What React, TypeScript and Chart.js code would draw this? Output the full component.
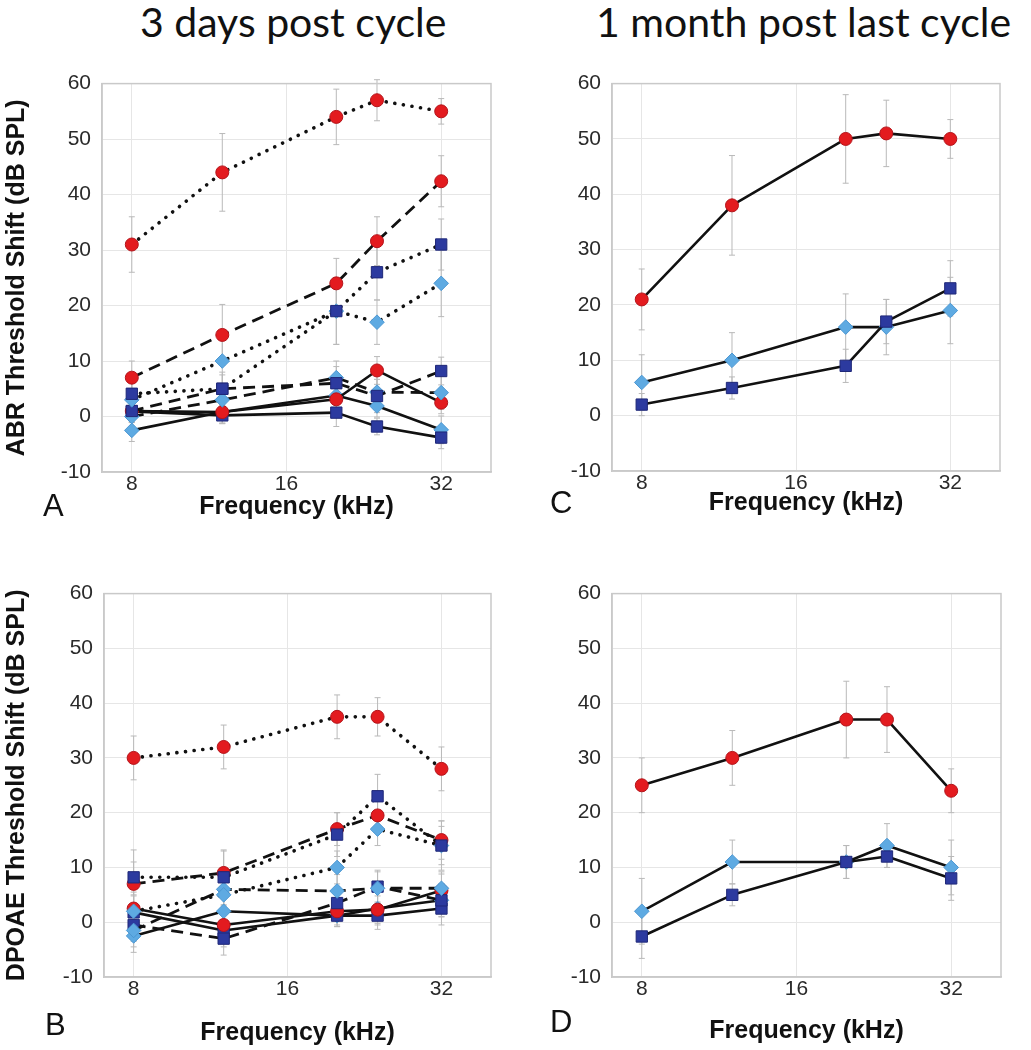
import React, { useEffect, useRef } from "react";
import { Chart, registerables } from "chart.js";

Chart.register(...registerables);

// ---------- shared axis data ----------
const FREQ_KHZ = [8, 12, 20, 24, 32];
const X_TICK_VALUES = [8, 16, 32];
const X_MIN = 7;
const X_MAX = 40;
const Y_MIN = -10;
const Y_MAX = 60;
const Y_STEP = 10;

const TITLE_LEFT = "3 days post cycle";
const TITLE_RIGHT = "1 month post last cycle";
const Y_TITLE_ABR = "ABR Threshold Shift (dB SPL)";
const Y_TITLE_DPOAE = "DPOAE Threshold Shift (dB SPL)";
const X_TITLE = "Frequency (kHz)";

// ---------- Panel A: ABR, 3 days post cycle ----------
const A_RED_SOLID = [1, 0.8, 3.1, 8.3, 2.5];
const A_RED_SOLID_ERR = [2, 2, 2.5, 2.5, 2];
const A_RED_DASHED = [7, 14.7, 24, 31.6, 42.4];
const A_RED_DASHED_ERR = [3, 5.5, 4.5, 4.4, 4.6];
const A_RED_DOTTED = [31, 44, 54, 57, 55];
const A_RED_DOTTED_ERR = [5, 7, 5, 3.7, 2.3];
const A_NAVY_SOLID = [0.9, 0.2, 0.7, -1.8, -3.8];
const A_NAVY_SOLID_ERR = [2, 1.5, 2.5, 1.5, 2];
const A_NAVY_DASHED = [1, 5, 6, 3.7, 8.2];
const A_NAVY_DASHED_ERR = [2, 2.5, 3, 3, 2.5];
const A_NAVY_DOTTED = [4.1, 5, 19, 26, 31];
const A_NAVY_DOTTED_ERR = [3, 3, 6, 5, 4.6];
const A_SKY_SOLID = [-2.5, 0.8, 3.8, 1.9, -2.4];
const A_SKY_SOLID_ERR = [2, 2, 3, 2, 2.5];
const A_SKY_DASHED = [0, 3, 7, 4.4, 4.3];
const A_SKY_DASHED_ERR = [3, 2.5, 3, 3, 3];
const A_SKY_DOTTED = [3, 10, 19, 17, 24];
const A_SKY_DOTTED_ERR = [3, 4.5, 6, 4, 6];

// ---------- Panel B: DPOAE, 3 days post cycle ----------
const B_RED_SOLID = [2.5, -0.5, 2, 2.3, 5.8];
const B_RED_SOLID_ERR = [3, 3, 2.5, 2.5, 3];
const B_RED_DASHED = [7, 9, 17, 19.5, 15];
const B_RED_DASHED_ERR = [4, 4, 3, 3, 3.5];
const B_RED_DOTTED = [30, 32, 37.5, 37.5, 28];
const B_RED_DOTTED_ERR = [4, 4, 4, 3.5, 4];
const B_NAVY_SOLID = [1.8, -1.5, 1.2, 1.2, 2.5];
const B_NAVY_SOLID_ERR = [3, 3, 2, 2.5, 3];
const B_NAVY_DASHED = [-0.5, -3, 3.5, 6.5, 4];
const B_NAVY_DASHED_ERR = [3, 3, 3, 3, 3];
const B_NAVY_DOTTED = [8.2, 8.2, 16, 23, 14];
const B_NAVY_DOTTED_ERR = [5, 5, 4, 4, 4.5];
const B_SKY_SOLID = [-2.5, 2, 1.2, 2.5, 4];
const B_SKY_SOLID_ERR = [3, 3, 2, 3, 3];
const B_SKY_DASHED = [-1.5, 6, 5.7, 6.2, 6.2];
const B_SKY_DASHED_ERR = [3, 3, 3, 3, 3];
const B_SKY_DOTTED = [2, 5, 10, 17, 14];
const B_SKY_DOTTED_ERR = [3, 3, 3, 3, 3.5];

// ---------- Panel C: ABR, 1 month post last cycle ----------
const C_RED = [21, 38, 50, 51, 50];
const C_RED_ERR = [5.5, 9, 8, 6, 3.5];
const C_NAVY = [2, 5, 9, 17, 23];
const C_NAVY_ERR = [2, 2, 3, 4, 5];
const C_SKY = [6, 10, 16, 16, 19];
const C_SKY_ERR = [5, 5, 6, 5, 6];

// ---------- Panel D: DPOAE, 1 month post last cycle ----------
const D_RED = [25, 30, 37, 37, 24];
const D_RED_ERR = [5, 5, 7, 6, 4];
const D_NAVY = [-2.6, 5, 11, 12, 8];
const D_NAVY_ERR = [4, 2, 3, 2, 4];
const D_SKY = [2, 11, 11, 14, 10];
const D_SKY_ERR = [6, 4, 3, 4, 5];

// ---------- styles ----------
const FONT_SANS = "'Liberation Sans', Arial, Helvetica, sans-serif";
const GRID_COLOR = "#e6e6e6";
const FRAME_COLOR = "#c9c9c9";
const ERR_COLOR = "#b9b9b9";
const TICK_COLOR = "#2a2a2a";

const MARKERS: Record<string, any> = {
  red: { pointStyle: "circle", radius: 6.5, bg: "#e31b1f", border: "#b3141a" },
  navy: { pointStyle: "rect", radius: 8, bg: "#2c3a9f", border: "#1f2878" },
  sky: { pointStyle: "rectRot", radius: 7.3, bg: "#5eaae2", border: "#4c97d2" },
};

const LINES: Record<string, any> = {
  solid: { dash: [], width: 2.6, cap: "butt" },
  dashed: { dash: [12, 7], width: 2.8, cap: "butt" },
  dotted: { dash: [0.1, 8.6], width: 3.6, cap: "round" },
};

type Series = { vals: number[]; err: number[]; group: string; style: string };

const SERIES_A: Series[] = [
  { vals: A_RED_DOTTED, err: A_RED_DOTTED_ERR, group: "red", style: "dotted" },
  { vals: A_RED_DASHED, err: A_RED_DASHED_ERR, group: "red", style: "dashed" },
  { vals: A_NAVY_DOTTED, err: A_NAVY_DOTTED_ERR, group: "navy", style: "dotted" },
  { vals: A_SKY_DOTTED, err: A_SKY_DOTTED_ERR, group: "sky", style: "dotted" },
  { vals: A_NAVY_DASHED, err: A_NAVY_DASHED_ERR, group: "navy", style: "dashed" },
  { vals: A_SKY_DASHED, err: A_SKY_DASHED_ERR, group: "sky", style: "dashed" },
  { vals: A_RED_SOLID, err: A_RED_SOLID_ERR, group: "red", style: "solid" },
  { vals: A_NAVY_SOLID, err: A_NAVY_SOLID_ERR, group: "navy", style: "solid" },
  { vals: A_SKY_SOLID, err: A_SKY_SOLID_ERR, group: "sky", style: "solid" },
];

const SERIES_B: Series[] = [
  { vals: B_RED_DOTTED, err: B_RED_DOTTED_ERR, group: "red", style: "dotted" },
  { vals: B_NAVY_DOTTED, err: B_NAVY_DOTTED_ERR, group: "navy", style: "dotted" },
  { vals: B_RED_DASHED, err: B_RED_DASHED_ERR, group: "red", style: "dashed" },
  { vals: B_SKY_DOTTED, err: B_SKY_DOTTED_ERR, group: "sky", style: "dotted" },
  { vals: B_SKY_DASHED, err: B_SKY_DASHED_ERR, group: "sky", style: "dashed" },
  { vals: B_NAVY_DASHED, err: B_NAVY_DASHED_ERR, group: "navy", style: "dashed" },
  { vals: B_RED_SOLID, err: B_RED_SOLID_ERR, group: "red", style: "solid" },
  { vals: B_NAVY_SOLID, err: B_NAVY_SOLID_ERR, group: "navy", style: "solid" },
  { vals: B_SKY_SOLID, err: B_SKY_SOLID_ERR, group: "sky", style: "solid" },
];

const SERIES_C: Series[] = [
  { vals: C_RED, err: C_RED_ERR, group: "red", style: "solid" },
  { vals: C_NAVY, err: C_NAVY_ERR, group: "navy", style: "solid" },
  { vals: C_SKY, err: C_SKY_ERR, group: "sky", style: "solid" },
];

const SERIES_D: Series[] = [
  { vals: D_RED, err: D_RED_ERR, group: "red", style: "solid" },
  { vals: D_NAVY, err: D_NAVY_ERR, group: "navy", style: "solid" },
  { vals: D_SKY, err: D_SKY_ERR, group: "sky", style: "solid" },
];

function makeDataset(s: Series) {
  const m = MARKERS[s.group];
  const l = LINES[s.style];
  return {
    data: FREQ_KHZ.map((f, i) => ({ x: f, y: s.vals[i] })),
    err: s.err,
    borderColor: "#111111",
    borderWidth: l.width,
    borderDash: l.dash,
    borderCapStyle: l.cap,
    borderJoinStyle: "round",
    tension: 0,
    fill: false,
    pointStyle: m.pointStyle,
    pointRadius: m.radius,
    pointBackgroundColor: m.bg,
    pointBorderColor: m.border,
    pointBorderWidth: 1,
  };
}

const errorBarPlugin = {
  id: "errorBars",
  beforeDatasetsDraw(chart: any) {
    const ctx = chart.ctx;
    const yScale = chart.scales.y;
    ctx.save();
    ctx.strokeStyle = ERR_COLOR;
    ctx.lineWidth = 1;
    chart.data.datasets.forEach((ds: any, di: number) => {
      const meta = chart.getDatasetMeta(di);
      if (!ds.err) return;
      meta.data.forEach((pt: any, i: number) => {
        const v = ds.data[i].y;
        const e = ds.err[i];
        const top = yScale.getPixelForValue(v + e);
        const bot = yScale.getPixelForValue(v - e);
        ctx.beginPath();
        ctx.moveTo(pt.x, top);
        ctx.lineTo(pt.x, bot);
        ctx.moveTo(pt.x - 3, top);
        ctx.lineTo(pt.x + 3, top);
        ctx.moveTo(pt.x - 3, bot);
        ctx.lineTo(pt.x + 3, bot);
        ctx.stroke();
      });
    });
    ctx.restore();
  },
};

const framePlugin = {
  id: "frame",
  beforeDatasetsDraw(chart: any) {
    const { ctx, chartArea } = chart;
    ctx.save();
    ctx.strokeStyle = FRAME_COLOR;
    ctx.lineWidth = 1.5;
    ctx.strokeRect(chartArea.left, chartArea.top, chartArea.right - chartArea.left, chartArea.bottom - chartArea.top);
    ctx.restore();
  },
};

type PanelProps = {
  left: number;
  top: number;
  width: number;
  height: number;
  area: { left: number; top: number; right: number; bottom: number };
  series: Series[];
  yTitle?: string;
  xTitlePadBottom: number;
};

function Panel({ left, top, width, height, area, series, yTitle, xTitlePadBottom }: PanelProps) {
  const ref = useRef<HTMLCanvasElement>(null);
  useEffect(() => {
    const tickFont = { family: FONT_SANS, size: 21 };
    const titleFont = { family: FONT_SANS, size: 25, weight: "bold" as const, lineHeight: 1.2 };
    const chart = new Chart(ref.current as HTMLCanvasElement, {
      type: "line",
      data: { datasets: series.map(makeDataset) as any },
      options: {
        responsive: false,
        animation: false,
        devicePixelRatio: 1,
        layout: { padding: { top: area.top, right: width - area.right, left: 0, bottom: 0 } },
        plugins: { legend: { display: false }, tooltip: { enabled: false } },
        scales: {
          x: {
            type: "logarithmic",
            min: X_MIN,
            max: X_MAX,
            afterBuildTicks: (s: any) => {
              s.ticks = X_TICK_VALUES.map((v) => ({ value: v }));
            },
            afterFit: (s: any) => {
              s.height = height - area.bottom;
            },
            ticks: {
              callback: (v: any) => String(v),
              autoSkip: false,
              maxRotation: 0,
              minRotation: 0,
              padding: 0,
              font: tickFont,
              color: TICK_COLOR,
            },
            grid: { color: GRID_COLOR, drawTicks: false, lineWidth: 1 },
            border: { display: true, color: FRAME_COLOR, width: 1.5 },
            title: {
              display: true,
              text: X_TITLE,
              font: titleFont,
              color: "#111",
              padding: { top: 0, bottom: xTitlePadBottom },
            },
          },
          y: {
            min: Y_MIN,
            max: Y_MAX,
            afterFit: (s: any) => {
              s.width = area.left;
            },
            ticks: { stepSize: Y_STEP, padding: 11, font: tickFont, color: TICK_COLOR },
            grid: { color: GRID_COLOR, drawTicks: false, lineWidth: 1 },
            border: { display: true, color: FRAME_COLOR, width: 1.5 },
            title: {
              display: !!yTitle,
              text: yTitle || "",
              font: titleFont,
              color: "#111",
              padding: { top: 2, bottom: 0 },
            },
          },
        },
      } as any,
      plugins: [errorBarPlugin, framePlugin],
    });
    return () => chart.destroy();
  }, []);
  return (
    <canvas
      ref={ref}
      width={width}
      height={height}
      style={{ position: "absolute", left, top, width, height }}
    />
  );
}

const letterStyle: React.CSSProperties = {
  position: "absolute",
  fontFamily: FONT_SANS,
  fontSize: 31,
  lineHeight: "31px",
  color: "#111",
};

const headStyle: React.CSSProperties = {
  position: "absolute",
  fontFamily: "Lato, 'Open Sans', sans-serif",
  fontSize: 41,
  lineHeight: "41px",
  color: "#111",
  whiteSpace: "nowrap",
};

export default function App() {
  return (
    <div style={{ position: "absolute", left: 0, top: 0, width: 1031, height: 1050, background: "#fff", overflow: "hidden" }}>
      <div style={{ ...headStyle, left: 140, top: 1 }}>{TITLE_LEFT}</div>
      <div style={{ ...headStyle, left: 596, top: 1 }}>{TITLE_RIGHT}</div>

      <Panel
        left={0}
        top={60}
        width={500}
        height={470}
        area={{ left: 102, top: 21, right: 492, bottom: 412 }}
        series={SERIES_A}
        yTitle={Y_TITLE_ABR}
        xTitlePadBottom={8}
      />
      <Panel
        left={520}
        top={60}
        width={511}
        height={470}
        area={{ left: 92, top: 21, right: 480, bottom: 411 }}
        series={SERIES_C}
        xTitlePadBottom={12}
      />
      <Panel
        left={0}
        top={570}
        width={500}
        height={480}
        area={{ left: 104, top: 17, right: 493, bottom: 407 }}
        series={SERIES_B}
        yTitle={Y_TITLE_DPOAE}
        xTitlePadBottom={2}
      />
      <Panel
        left={520}
        top={570}
        width={511}
        height={480}
        area={{ left: 92, top: 17, right: 481, bottom: 407 }}
        series={SERIES_D}
        xTitlePadBottom={4}
      />

      <div style={{ ...letterStyle, left: 43, top: 490 }}>A</div>
      <div style={{ ...letterStyle, left: 550, top: 487 }}>C</div>
      <div style={{ ...letterStyle, left: 45, top: 1009 }}>B</div>
      <div style={{ ...letterStyle, left: 550, top: 1006 }}>D</div>
    </div>
  );
}
